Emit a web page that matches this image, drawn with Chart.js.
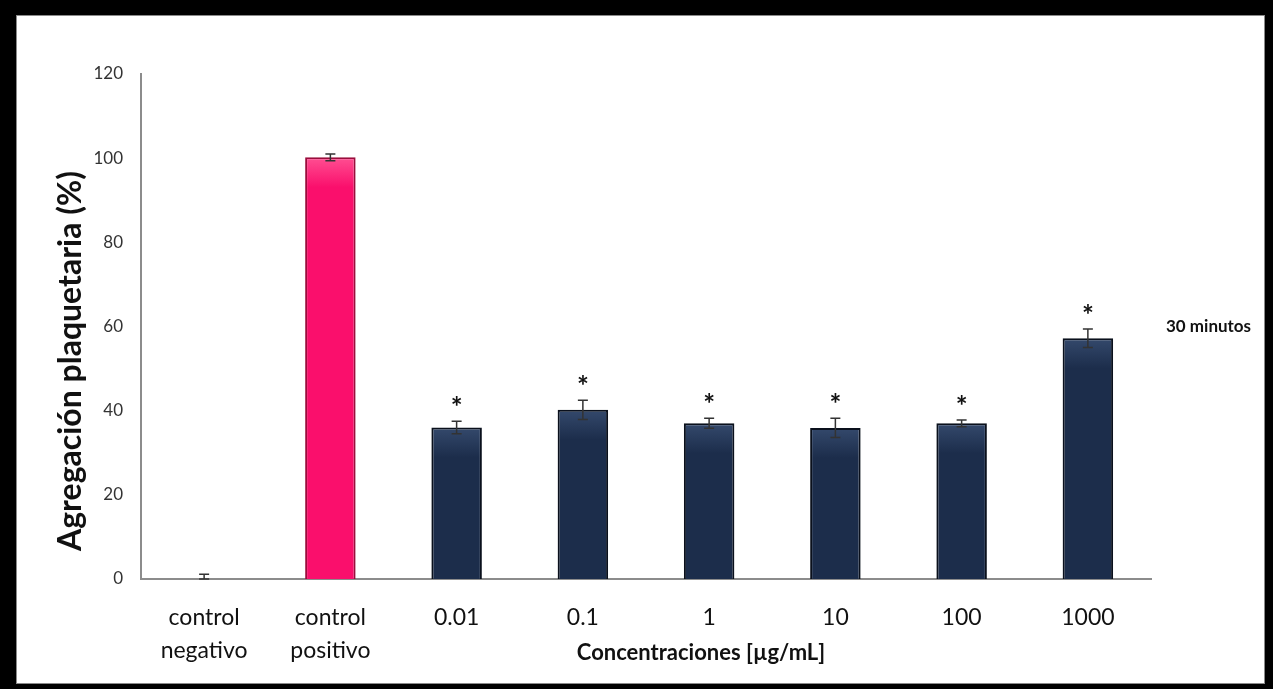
<!DOCTYPE html>
<html>
<head>
<meta charset="utf-8">
<script src="https://cdn.jsdelivr.net/npm/chart.js@4.4.1/dist/chart.umd.min.js"></script>
<style>
  body { margin: 0; background: #000; width: 1273px; height: 689px; overflow: hidden; }
  #frame { position: absolute; left: 16px; top: 15px; width: 1247px; height: 667px; background: #fff; border: 1px solid #8a8a8a; }
  canvas { display: block; }
</style>
</head>
<body>
<div id="frame"><canvas id="chartCanvas" width="1247" height="667"></canvas></div>
<script>
const categories = [['control', 'negativo'], ['control', 'positivo'], '0.01', '0.1', '1', '10', '100', '1000'];
const aggregation = [0, 100.2, 36, 40.2, 37, 35.9, 37, 57.2];
const errors = [1.1, 0.8, 1.5, 2.3, 1.2, 2.3, 0.8, 2.2];
const significant = [false, false, true, true, true, true, true, true];
const yTicks = [0, 20, 40, 60, 80, 100, 120];

const ctx = document.getElementById('chartCanvas').getContext('2d');
const FONT = 'Lato, "Open Sans", sans-serif';

// bars get a lighter band at the top, like the bevel in the original
function barFill(context) {
    const i = context.dataIndex;
    const base = i === 1 ? '#fa0f6c' : '#1c2d4b';
    const light = i === 1 ? '#ff4f92' : '#34496c';
    const chart = context.chart;
    if (!chart.scales || !chart.scales.y || i === undefined) return base;
    const top = chart.scales.y.getPixelForValue(aggregation[i]);
    if (!isFinite(top)) return base;
    const g = chart.ctx.createLinearGradient(0, top, 0, top + 30);
    g.addColorStop(0, light);
    g.addColorStop(1, base);
    return g;
}

// error bars, asterisks and the free text labels
const extrasPlugin = {
    id: 'extras',
    afterDatasetsDraw(chart) {
        const c = chart.ctx;
        const x = chart.scales.x;
        const y = chart.scales.y;
        c.save();
        c.strokeStyle = '#333';
        c.lineWidth = 1.5;
        aggregation.forEach((v, i) => {
            const px = x.getPixelForValue(i);
            const top = y.getPixelForValue(v + errors[i]);
            const bot = y.getPixelForValue(Math.max(0, v - errors[i]));
            c.beginPath();
            c.moveTo(px, top); c.lineTo(px, bot);
            c.moveTo(px - 5, top); c.lineTo(px + 5, top);
            c.moveTo(px - 5, bot); c.lineTo(px + 5, bot);
            c.stroke();
            if (significant[i]) {
                c.fillStyle = '#111';
                c.font = 'bold 28px ' + FONT;
                c.textAlign = 'center';
                c.textBaseline = 'middle';
                c.fillText('*', px, top - 13);
            }
        });
        c.fillStyle = '#111';
        c.textBaseline = 'middle';
        c.textAlign = 'left';
        c.font = 'bold 17px ' + FONT;
        c.fillText('30 minutos', chart.chartArea.right + 15, y.getPixelForValue(60));

        c.textAlign = 'center';
        c.font = 'bold 22px ' + FONT;
        c.fillText('Concentraciones [µg/mL]', 684, 637);

        c.translate(54, 345);
        c.rotate(-Math.PI / 2);
        c.font = 'bold 32px ' + FONT;
        c.fillText('Agregación plaquetaria (%)', 0, 0);
        c.restore();
    }
};

new Chart(ctx, {
    type: 'bar',
    data: {
        labels: categories,
        datasets: [{
            data: aggregation,
            backgroundColor: barFill,
            borderColor: aggregation.map((v, i) => i === 1 ? '#9a0d3c' : '#0a101c'),
            borderWidth: 2,
            barPercentage: 0.8,
            categoryPercentage: 0.5
        }]
    },
    options: {
        responsive: false,
        animation: false,
        layout: { padding: { top: 58, right: 113, bottom: 0, left: 0 } },
        plugins: { legend: { display: false }, tooltip: { enabled: false } },
        scales: {
            y: {
                min: 0,
                max: 120,
                afterBuildTicks: (scale) => { scale.ticks = yTicks.map(v => ({ value: v })); },
                afterFit: (scale) => { scale.width = 124; },
                grid: { display: false, drawTicks: false },
                border: { display: true, color: '#8c8c8c', width: 2 },
                ticks: { padding: 18, color: '#333', font: { family: FONT, size: 17 } }
            },
            x: {
                afterFit: (scale) => { scale.height = 104; },
                grid: { display: false, drawTicks: false },
                border: { display: true, color: '#8c8c8c', width: 2 },
                ticks: { padding: 22, color: '#111', font: { family: FONT, size: 23, lineHeight: 1.43 } }
            }
        }
    },
    plugins: [extrasPlugin]
});
</script>
</body>
</html>
